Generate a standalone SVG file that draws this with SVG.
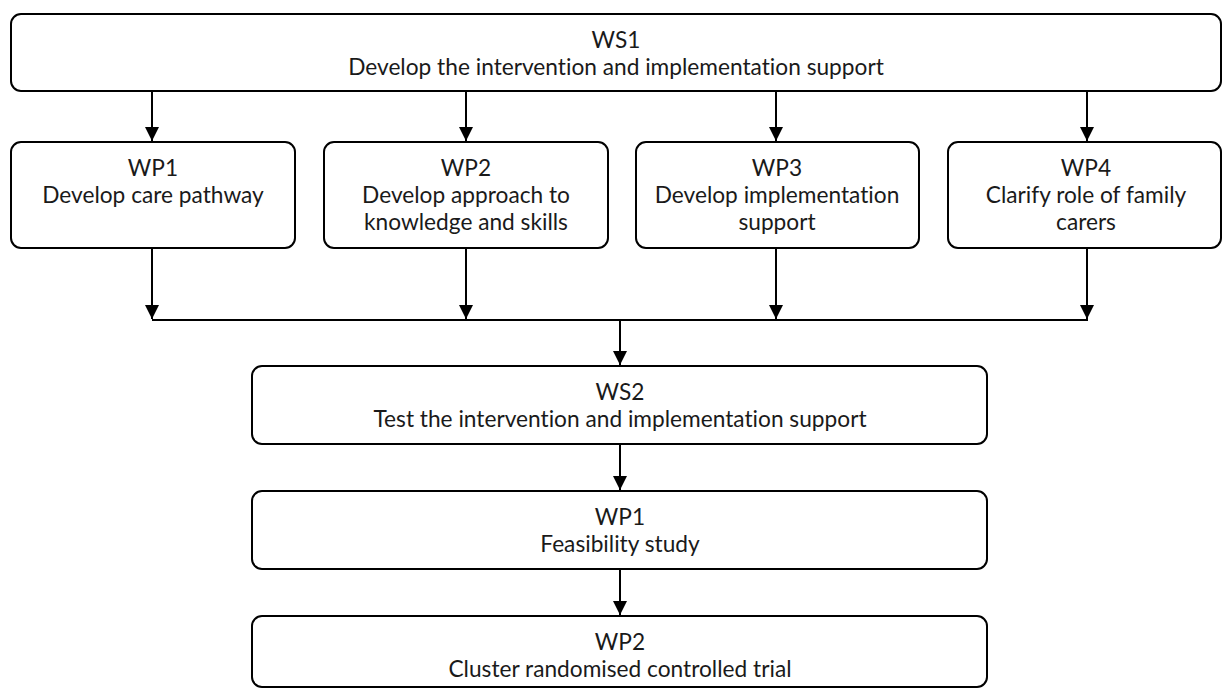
<svg xmlns="http://www.w3.org/2000/svg" width="1222" height="688" viewBox="0 0 1222 688">
<style>
.box{fill:#fff;stroke:#000;stroke-width:2}
.t{font-family:Lato,"Open Sans","Liberation Sans",sans-serif;font-size:22.7px;fill:#1a1a1a;text-anchor:middle;font-variant-ligatures:none;font-feature-settings:"liga" 0}
.ln{stroke:#000;stroke-width:2;fill:none}
</style>
<defs>
<marker id="ah" markerUnits="userSpaceOnUse" markerWidth="16" markerHeight="14" refX="16" refY="8" orient="auto" viewBox="0 0 16 16">
<path d="M0,0 L16,8 L0,16 Z" fill="#000"/>
</marker>
</defs>
<rect width="1222" height="688" fill="#fff"/>
<g id="connectors">
<line class="ln" x1="152" y1="91" x2="152" y2="141" marker-end="url(#ah)"/>
<line class="ln" x1="466" y1="91" x2="466" y2="141" marker-end="url(#ah)"/>
<line class="ln" x1="776" y1="91" x2="776" y2="141" marker-end="url(#ah)"/>
<line class="ln" x1="1087" y1="91" x2="1087" y2="141" marker-end="url(#ah)"/>
<line class="ln" x1="152" y1="248" x2="152" y2="319" marker-end="url(#ah)"/>
<line class="ln" x1="466" y1="248" x2="466" y2="319" marker-end="url(#ah)"/>
<line class="ln" x1="776" y1="248" x2="776" y2="319" marker-end="url(#ah)"/>
<line class="ln" x1="1087" y1="248" x2="1087" y2="319" marker-end="url(#ah)"/>
<line class="ln" x1="152" y1="320" x2="1088" y2="320"/>
<line class="ln" x1="620" y1="320" x2="620" y2="365" marker-end="url(#ah)"/>
<line class="ln" x1="620" y1="444" x2="620" y2="490" marker-end="url(#ah)"/>
<line class="ln" x1="620" y1="569" x2="620" y2="615" marker-end="url(#ah)"/>
</g>
<g id="ws1">
<rect class="box" x="11" y="14" width="1210" height="77" rx="10"/>
<text class="t" x="616" y="48">WS1</text>
<text class="t" x="616" y="75">Develop the intervention and implementation support</text>
</g>
<g id="wp1a">
<rect class="box" x="11" y="142" width="284" height="106" rx="10"/>
<text class="t" x="153" y="176">WP1</text>
<text class="t" x="153" y="203">Develop care pathway</text>
</g>
<g id="wp2a">
<rect class="box" x="324" y="142" width="284" height="106" rx="10"/>
<text class="t" x="466" y="176">WP2</text>
<text class="t" x="466" y="203">Develop approach to</text>
<text class="t" x="466" y="230">knowledge and skills</text>
</g>
<g id="wp3a">
<rect class="box" x="636" y="142" width="283" height="106" rx="10"/>
<text class="t" x="777" y="176">WP3</text>
<text class="t" x="777" y="203">Develop implementation</text>
<text class="t" x="777" y="230">support</text>
</g>
<g id="wp4a">
<rect class="box" x="948" y="142" width="273" height="106" rx="10"/>
<text class="t" x="1086" y="176">WP4</text>
<text class="t" x="1086" y="203">Clarify role of family</text>
<text class="t" x="1086" y="230">carers</text>
</g>
<g id="ws2">
<rect class="box" x="252" y="366" width="735" height="78" rx="10"/>
<text class="t" x="620" y="400">WS2</text>
<text class="t" x="620" y="427">Test the intervention and implementation support</text>
</g>
<g id="wp1b">
<rect class="box" x="252" y="491" width="735" height="78" rx="10"/>
<text class="t" x="620" y="525">WP1</text>
<text class="t" x="620" y="552">Feasibility study</text>
</g>
<g id="wp2b">
<rect class="box" x="252" y="616" width="735" height="71" rx="10"/>
<text class="t" x="620" y="650">WP2</text>
<text class="t" x="620" y="677">Cluster randomised controlled trial</text>
</g>
</svg>
